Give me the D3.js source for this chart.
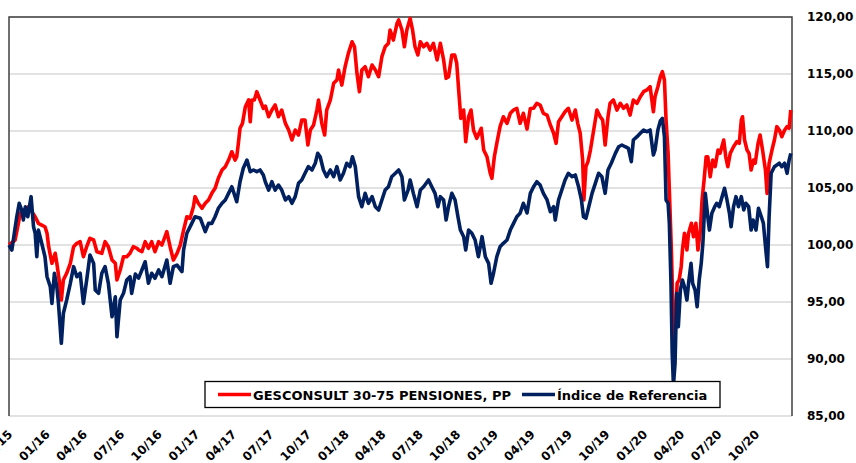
<!DOCTYPE html>
<meta charset="utf-8">
<script src="https://cdn.jsdelivr.net/npm/d3@7"></script>
<style>
body { margin: 0; background: #fff; }
svg text { font-family: "DejaVu Sans", Verdana, sans-serif; font-weight: bold; fill: #000; }
</style>
<body>
<script>

// series names and axis ticks
var seriesNames = ["GESCONSULT 30-75 PENSIONES, PP", "Índice de Referencia"];
var seriesColors = ["#ff0000", "#002060"];
var yTicks = [85, 90, 95, 100, 105, 110, 115, 120];
var xTicks = ["2015-10-01", "2016-01-01", "2016-04-01", "2016-07-01", "2016-10-01",
              "2017-01-01", "2017-04-01", "2017-07-01", "2017-10-01", "2018-01-01",
              "2018-04-01", "2018-07-01", "2018-10-01", "2019-01-01", "2019-04-01",
              "2019-07-01", "2019-10-01", "2020-01-01", "2020-04-01", "2020-07-01",
              "2020-10-01"];
var xStart = "2015-10-07", xEnd = "2021-01-03";

// GESCONSULT 30-75 PENSIONES, PP (base 100)
var fundDates = [
 "2015-10-07","2015-10-22","2015-10-30","2015-11-03","2015-11-11","2015-11-16","2015-11-24","2015-12-10",
 "2015-12-18","2015-12-26","2016-01-03","2016-01-08","2016-01-12","2016-01-20","2016-01-28","2016-02-01",
 "2016-02-09","2016-02-12","2016-02-17","2016-02-25","2016-03-05","2016-03-13","2016-03-21","2016-03-29",
 "2016-04-06","2016-04-14","2016-04-22","2016-05-01","2016-05-09","2016-05-21","2016-05-29","2016-06-06",
 "2016-06-15","2016-06-23","2016-06-27","2016-07-05","2016-07-13","2016-07-21","2016-07-29","2016-08-06",
 "2016-08-15","2016-08-19","2016-08-27","2016-09-04","2016-09-12","2016-09-20","2016-09-28","2016-10-07",
 "2016-10-15","2016-10-27","2016-11-04","2016-11-12","2016-11-21","2016-11-29","2016-12-07","2016-12-15",
 "2016-12-23","2016-12-31","2017-01-04","2017-01-12","2017-01-21","2017-01-29","2017-02-06","2017-02-14",
 "2017-02-22","2017-03-02","2017-03-11","2017-03-19","2017-03-27","2017-04-04","2017-04-12","2017-04-16",
 "2017-04-20","2017-04-24","2017-04-30","2017-05-07","2017-05-15","2017-05-19","2017-05-23","2017-05-29",
 "2017-06-04","2017-06-12","2017-06-20","2017-06-25","2017-07-03","2017-07-11","2017-07-19","2017-07-27",
 "2017-08-04","2017-08-13","2017-08-21","2017-08-29","2017-09-06","2017-09-14","2017-09-22","2017-09-30",
 "2017-10-07","2017-10-13","2017-10-21","2017-10-29","2017-11-02","2017-11-10","2017-11-17","2017-11-22",
 "2017-12-01","2017-12-09","2017-12-17","2017-12-21","2017-12-29","2018-01-06","2018-01-14","2018-01-23",
 "2018-01-29","2018-02-04","2018-02-10","2018-02-16","2018-02-24","2018-03-04","2018-03-13","2018-03-21",
 "2018-03-29","2018-04-06","2018-04-14","2018-04-22","2018-04-26","2018-05-04","2018-05-13","2018-05-17",
 "2018-05-25","2018-05-31","2018-06-06","2018-06-14","2018-06-20","2018-06-26","2018-07-03","2018-07-09",
 "2018-07-17","2018-07-25","2018-08-02","2018-08-10","2018-08-19","2018-08-27","2018-09-04","2018-09-10",
 "2018-09-16","2018-09-24","2018-10-01","2018-10-06","2018-10-12","2018-10-16","2018-10-23","2018-10-28",
 "2018-11-04","2018-11-10","2018-11-16","2018-11-24","2018-12-05","2018-12-11","2018-12-19","2018-12-27",
 "2018-12-31","2019-01-06","2019-01-12","2019-01-20","2019-01-28","2019-02-06","2019-02-14","2019-02-22",
 "2019-03-02","2019-03-10","2019-03-18","2019-03-27","2019-04-04","2019-04-12","2019-04-20","2019-04-28",
 "2019-05-06","2019-05-15","2019-05-23","2019-05-31","2019-06-06","2019-06-12","2019-06-20","2019-06-28",
 "2019-07-06","2019-07-15","2019-07-23","2019-07-29","2019-08-04","2019-08-10","2019-08-13","2019-08-18",
 "2019-08-23","2019-08-29","2019-09-06","2019-09-14","2019-09-22","2019-09-28","2019-10-04","2019-10-11",
 "2019-10-16","2019-10-24","2019-11-02","2019-11-10","2019-11-18","2019-11-26","2019-12-04","2019-12-12",
 "2019-12-21","2019-12-29","2020-01-06","2020-01-14","2020-01-22","2020-01-30","2020-02-03","2020-02-10",
 "2020-02-16","2020-02-21","2020-02-26","2020-03-01","2020-03-06","2020-03-09","2020-03-14","2020-03-18",
 "2020-03-21","2020-03-25","2020-03-28","2020-04-02","2020-04-07","2020-04-10","2020-04-15","2020-04-21",
 "2020-04-25","2020-05-02","2020-05-07","2020-05-13","2020-05-18","2020-05-24","2020-05-28","2020-06-02",
 "2020-06-07","2020-06-11","2020-06-17","2020-06-23","2020-06-29","2020-07-06","2020-07-11","2020-07-20",
 "2020-07-25","2020-07-30","2020-08-05","2020-08-13","2020-08-21","2020-08-27","2020-09-01","2020-09-04",
 "2020-09-09","2020-09-15","2020-09-20","2020-09-25","2020-10-01","2020-10-05","2020-10-12","2020-10-17",
 "2020-10-23","2020-10-30","2020-11-03","2020-11-08","2020-11-15","2020-11-21","2020-11-27","2020-12-03",
 "2020-12-09","2020-12-16","2020-12-22","2020-12-27","2020-12-31"];
var fundValues = [
 100.00,100.44,101.90,102.78,103.07,102.63,103.36,102.48,
 101.90,101.75,101.60,101.03,99.85,98.39,99.27,98.39,
 96.34,95.17,96.93,97.52,98.39,99.85,100.15,100.29,
 98.97,99.85,100.59,100.44,99.41,99.27,100.29,99.85,
 98.68,98.39,96.93,97.81,98.97,98.97,99.27,99.85,
 99.71,99.56,99.41,100.29,99.71,100.29,99.41,100.29,
 100.00,101.17,99.85,98.68,99.27,100.00,101.31,102.48,
 102.34,103.36,104.24,103.66,103.22,103.66,103.95,104.53,
 104.97,105.85,106.58,106.87,107.45,108.18,107.45,107.74,
 108.92,110.24,110.67,112.13,112.72,110.81,112.72,112.72,
 113.45,112.72,111.99,112.19,111.25,111.84,112.28,111.25,
 111.84,110.67,110.09,109.21,110.09,109.65,110.96,110.96,
 108.77,110.09,110.53,111.84,112.72,110.67,109.65,111.84,
 112.72,114.18,114.47,115.35,114.03,115.64,116.81,117.83,
 117.39,115.06,113.45,115.35,115.64,114.76,115.79,115.35,
 114.76,116.52,117.39,117.69,118.86,117.98,119.45,119.74,
 118.86,117.39,118.86,119.88,118.86,117.39,116.67,117.83,
 117.39,117.69,117.10,117.69,116.23,117.69,116.23,114.62,
 114.76,116.67,116.67,115.94,113.01,111.11,111.84,109.06,
 111.25,111.84,110.09,109.36,110.24,108.33,107.74,106.29,
 105.85,107.74,108.92,110.38,111.25,110.67,111.55,111.84,
 111.99,110.67,111.55,110.17,111.97,111.99,112.43,112.28,
 111.55,111.40,110.53,109.80,108.92,110.81,111.25,111.69,
 111.99,110.96,111.84,110.67,109.80,107.45,103.95,106.87,
 107.31,108.33,110.09,111.84,111.25,110.96,108.77,111.25,
 112.43,112.72,111.84,112.43,111.99,112.28,111.40,112.72,
 112.43,113.01,113.45,113.60,113.88,111.69,113.01,113.88,
 114.76,115.20,114.47,110.96,108.04,104.82,99.56,94.01,
 91.38,94.01,96.64,96.93,98.10,99.56,101.03,99.56,
 101.03,101.90,100.73,101.90,99.56,101.31,103.95,105.70,
 107.74,107.74,105.99,107.45,106.87,108.33,108.04,109.21,
 107.74,106.87,108.04,108.62,109.06,108.92,110.96,111.25,
 109.21,108.33,108.04,106.58,107.45,107.17,108.92,109.65,
 108.33,106.58,104.53,107.17,108.33,109.21,110.38,110.09,
 109.50,110.09,110.38,110.24,111.84];

// Índice de Referencia (base 100)
var refDates = [
 "2015-10-07","2015-10-14","2015-10-20","2015-10-26","2015-11-01","2015-11-07","2015-11-11","2015-11-16",
 "2015-11-22","2015-11-30","2015-12-06","2015-12-10","2015-12-14","2015-12-18","2015-12-26","2016-01-03",
 "2016-01-08","2016-01-16","2016-01-20","2016-01-26","2016-02-01","2016-02-05","2016-02-12","2016-02-17",
 "2016-02-25","2016-03-05","2016-03-13","2016-03-21","2016-03-29","2016-04-06","2016-04-14","2016-04-22",
 "2016-05-01","2016-05-05","2016-05-13","2016-05-21","2016-05-29","2016-06-06","2016-06-15","2016-06-23",
 "2016-06-27","2016-07-05","2016-07-13","2016-07-21","2016-07-29","2016-08-02","2016-08-11","2016-08-19",
 "2016-08-27","2016-09-04","2016-09-12","2016-09-20","2016-09-28","2016-10-07","2016-10-15","2016-10-27",
 "2016-11-04","2016-11-12","2016-11-21","2016-12-03","2016-12-07","2016-12-15","2016-12-27","2017-01-04",
 "2017-01-17","2017-01-29","2017-02-06","2017-02-14","2017-02-22","2017-03-02","2017-03-11","2017-03-19",
 "2017-03-27","2017-04-04","2017-04-12","2017-04-16","2017-04-24","2017-05-02","2017-05-11","2017-05-19",
 "2017-05-27","2017-06-04","2017-06-12","2017-06-20","2017-06-25","2017-07-03","2017-07-11","2017-07-19",
 "2017-07-27","2017-08-04","2017-08-13","2017-08-21","2017-08-29","2017-09-06","2017-09-14","2017-09-22",
 "2017-09-30","2017-10-08","2017-10-17","2017-10-25","2017-10-31","2017-11-06","2017-11-14","2017-11-22",
 "2017-12-01","2017-12-09","2017-12-17","2017-12-25","2018-01-02","2018-01-10","2018-01-18","2018-01-24",
 "2018-01-31","2018-02-08","2018-02-16","2018-02-24","2018-03-04","2018-03-13","2018-03-21","2018-03-29",
 "2018-04-06","2018-04-14","2018-04-22","2018-04-30","2018-05-09","2018-05-17","2018-05-25","2018-05-31",
 "2018-06-09","2018-06-14","2018-06-22","2018-07-01","2018-07-09","2018-07-17","2018-07-29","2018-08-06",
 "2018-08-14","2018-08-21","2018-08-27","2018-09-04","2018-09-10","2018-09-16","2018-09-24","2018-10-02",
 "2018-10-09","2018-10-15","2018-10-23","2018-10-28","2018-11-04","2018-11-12","2018-11-20","2018-11-28",
 "2018-12-07","2018-12-15","2018-12-23","2018-12-29","2019-01-04","2019-01-12","2019-01-20","2019-01-28",
 "2019-02-06","2019-02-14","2019-02-22","2019-03-02","2019-03-10","2019-03-18","2019-03-27","2019-04-04",
 "2019-04-12","2019-04-20","2019-04-28","2019-05-06","2019-05-15","2019-05-23","2019-05-31","2019-06-04",
 "2019-06-12","2019-06-20","2019-06-28","2019-07-06","2019-07-15","2019-07-23","2019-07-31","2019-08-07",
 "2019-08-12","2019-08-18","2019-08-25","2019-09-02","2019-09-10","2019-09-18","2019-09-26","2019-10-04",
 "2019-10-11","2019-10-19","2019-10-29","2019-11-06","2019-11-14","2019-11-22","2019-11-30","2019-12-07",
 "2019-12-12","2019-12-21","2019-12-29","2020-01-06","2020-01-14","2020-01-22","2020-01-30","2020-02-03",
 "2020-02-10","2020-02-16","2020-02-21","2020-02-26","2020-03-01","2020-03-06","2020-03-09","2020-03-13",
 "2020-03-16","2020-03-19","2020-03-23","2020-03-27","2020-03-31","2020-04-05","2020-04-10","2020-04-15",
 "2020-04-21","2020-04-25","2020-05-01","2020-05-05","2020-05-11","2020-05-16","2020-05-21","2020-05-26",
 "2020-05-30","2020-06-05","2020-06-11","2020-06-15","2020-06-21","2020-06-28","2020-07-03","2020-07-09",
 "2020-07-16","2020-07-22","2020-07-28","2020-08-03","2020-08-07","2020-08-13","2020-08-19","2020-08-25",
 "2020-09-01","2020-09-07","2020-09-12","2020-09-19","2020-09-25","2020-09-30","2020-10-07","2020-10-13",
 "2020-10-20","2020-10-25","2020-10-31","2020-11-04","2020-11-08","2020-11-13","2020-11-21","2020-11-27",
 "2020-12-03","2020-12-09","2020-12-16","2020-12-22","2020-12-27","2020-12-31"];
var refValues = [
 100.00,99.56,101.03,102.48,103.66,103.07,102.19,103.36,
 102.48,104.24,101.60,101.03,98.97,101.31,100.15,98.97,
 97.22,96.34,94.88,97.52,96.34,94.88,91.38,94.01,
 95.17,96.64,98.10,97.22,97.52,94.88,96.93,99.12,
 98.39,96.05,95.76,97.52,98.10,96.64,93.71,95.46,
 91.95,95.17,95.76,96.93,97.22,95.76,97.45,97.10,
 97.81,98.53,96.64,97.52,97.08,97.81,97.22,98.68,
 96.64,98.10,98.24,97.66,99.56,101.03,101.90,102.48,
 102.34,101.17,101.90,101.90,102.48,103.22,103.66,103.95,
 104.53,105.11,104.24,103.80,105.55,106.73,107.45,106.43,
 106.58,106.43,106.58,106.14,105.53,104.82,105.55,104.82,
 105.26,104.82,103.95,104.24,103.66,104.24,105.41,105.70,
 106.29,106.87,106.58,107.17,108.04,107.74,106.58,105.99,
 106.58,105.99,106.87,105.70,106.29,107.17,106.87,107.74,
 106.87,104.24,103.36,104.53,103.66,104.24,103.36,103.07,
 103.95,104.82,105.11,105.99,106.29,106.58,105.99,103.95,
 104.82,105.70,104.53,103.36,104.82,105.11,105.70,105.11,
 104.53,103.36,104.24,103.95,102.19,103.36,104.53,103.95,
 102.48,101.31,100.73,99.56,101.31,101.03,100.44,98.97,
 100.73,98.97,98.39,96.64,97.52,98.97,99.85,100.15,
 100.44,101.31,101.90,102.48,102.78,103.66,102.81,104.53,
 105.11,105.55,105.26,104.53,103.95,102.92,103.36,102.19,
 103.95,104.82,105.70,106.29,105.99,106.14,105.11,103.95,
 102.48,102.34,103.36,104.53,105.41,106.29,105.99,104.53,
 106.58,107.17,108.04,108.62,108.77,108.62,108.48,107.31,
 109.21,109.50,109.80,110.09,109.94,110.09,107.89,108.33,
 110.09,110.88,111.11,109.50,103.95,103.66,101.90,96.64,
 90.50,87.72,89.62,95.76,92.83,96.05,96.93,96.34,
 95.17,96.64,98.39,96.64,96.05,94.59,96.93,98.39,
 100.15,104.53,102.48,101.31,102.78,103.36,103.66,103.36,
 104.24,104.97,103.95,102.78,101.60,103.36,104.24,103.36,
 104.24,103.07,103.66,103.36,101.31,102.19,101.31,103.22,
 102.48,101.90,99.56,98.10,102.48,106.29,106.87,107.02,
 107.17,106.87,107.17,106.29,107.45,108.04];

var width = 856, height = 463;
var plot = {left: 9, right: 792, top: 17, bottom: 416};
var parseDate = d3.timeParse("%Y-%m-%d");
var fmtNum = function(d) { return d3.format(".2f")(d).replace(".", ","); };

var svg = d3.select("body").append("svg")
    .attr("width", width)
    .attr("height", height);

var x = d3.scaleTime()
    .domain([parseDate(xStart), parseDate(xEnd)])
    .range([plot.left, plot.right]);

var y = d3.scaleLinear()
    .domain([85, 120])
    .range([plot.bottom, plot.top]);

// horizontal gridlines
svg.append("g")
  .selectAll("line")
    .data(yTicks)
  .enter().append("line")
    .attr("x1", plot.left)
    .attr("x2", plot.right)
    .attr("y1", function(d) { return y(d); })
    .attr("y2", function(d) { return y(d); })
    .style("stroke", "#d9d9d9")
    .style("stroke-width", 1.5);

// plot frame: dark on top, left and right
svg.append("path")
    .attr("d", "M" + plot.left + "," + plot.bottom + "V" + plot.top + "H" + plot.right + "V" + plot.bottom)
    .style("fill", "none")
    .style("stroke", "#404040")
    .style("stroke-width", 1.5);

// series
var series = [
  {name: seriesNames[0], color: seriesColors[0], dates: fundDates, values: fundValues},
  {name: seriesNames[1], color: seriesColors[1], dates: refDates, values: refValues}
];

var line = d3.line()
    .x(function(d) { return x(d.date); })
    .y(function(d) { return y(d.value); });

series.forEach(function(s) {
  var pts = s.dates.map(function(d, i) { return {date: parseDate(d), value: s.values[i]}; });
  svg.append("path")
      .datum(pts)
      .attr("d", line)
      .style("fill", "none")
      .style("stroke", s.color)
      .style("stroke-width", 3.6)
      .style("stroke-linejoin", "round");
});

// right value axis
var yAxis = svg.append("g")
    .attr("transform", "translate(" + plot.right + ",0)")
    .call(d3.axisRight(y).tickValues(yTicks).tickSize(0).tickPadding(15).tickFormat(fmtNum));
yAxis.select(".domain").remove();
yAxis.selectAll("text")
    .style("font-size", "12px")
    .style("font-family", "'DejaVu Sans', Verdana, sans-serif")
    .style("font-weight", "bold");

// date axis, labels at 45 degrees
var xAxis = svg.append("g")
    .attr("transform", "translate(0," + plot.bottom + ")")
    .call(d3.axisBottom(x).tickValues(xTicks.map(parseDate)).tickSize(0).tickFormat(d3.timeFormat("%m/%y")));
xAxis.select(".domain").remove();
xAxis.selectAll("text")
    .attr("x", 0)
    .attr("y", 0)
    .attr("dy", 0)
    .attr("text-anchor", "end")
    .attr("transform", "translate(6,19) rotate(-45)")
    .style("font-size", "12px")
    .style("font-family", "'DejaVu Sans', Verdana, sans-serif")
    .style("font-weight", "bold");

// legend
var legend = svg.append("g");
legend.append("rect")
    .attr("x", 205)
    .attr("y", 381.5)
    .attr("width", 515)
    .attr("height", 26)
    .style("fill", "#fff")
    .style("stroke", "#000")
    .style("stroke-width", 1.3);

var legendX = [218, 522];
series.forEach(function(s, i) {
  legend.append("line")
      .attr("x1", legendX[i])
      .attr("x2", legendX[i] + 33)
      .attr("y1", 394.5)
      .attr("y2", 394.5)
      .style("stroke", s.color)
      .style("stroke-width", 3.6);
  legend.append("text")
      .attr("x", legendX[i] + 35)
      .attr("y", 399.5)
      .style("font-size", "13px")
      .text(s.name);
});

</script>
